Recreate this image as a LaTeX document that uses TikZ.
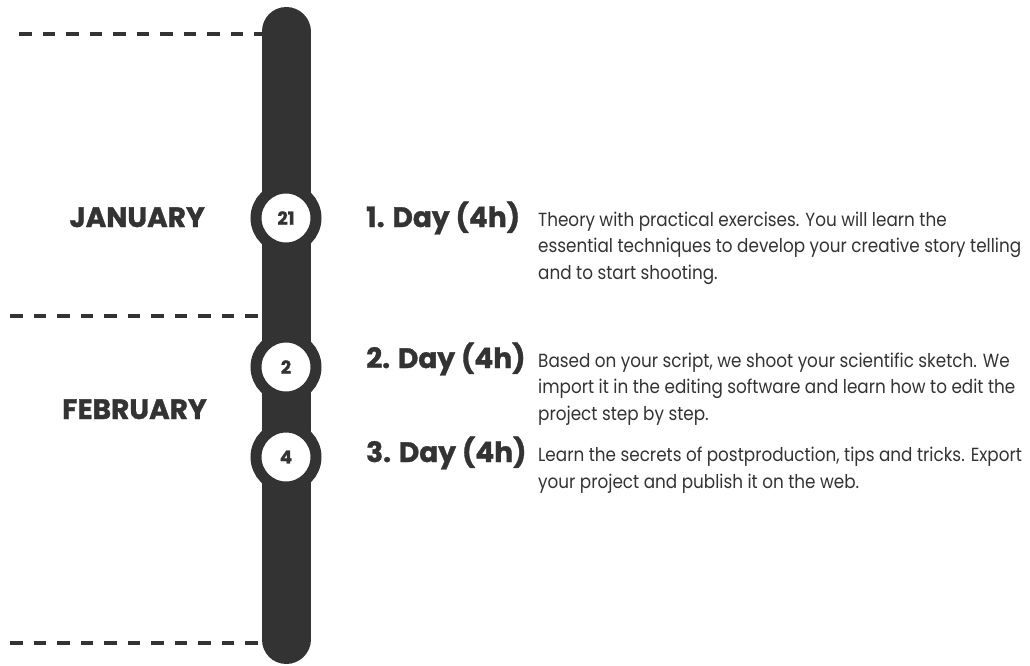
\documentclass[tikz,border=0pt]{standalone}
\usepackage{fontspec}
\setmainfont{Poppins}[BoldFeatures={FakeBold=1.2}]
\newfontfamily\bodyfont{Poppins}[FakeStretch=0.885]
\usetikzlibrary{positioning}
\definecolor{ink}{HTML}{333333}

\begin{document}
\begin{tikzpicture}[x=1pt,y=-1pt,
    every node/.style={text=ink,inner sep=0pt},
    daydot/.style={circle,draw=ink,fill=white,line width=11pt,minimum size=60pt,font=\bfseries\fontsize{18}{18}\selectfont},
    month/.style={anchor=base east,font=\bfseries\fontsize{28}{28}\selectfont},
    daytitle/.style={anchor=base west,font=\bfseries\fontsize{28}{28}\selectfont},
    daytext/.style={anchor=base west,align=left,font=\bodyfont\fontsize{19}{26.5}\selectfont},
    divider/.style={ink,line width=4pt,dash pattern=on 12.5pt off 11pt}]
   \useasboundingbox (0,0) rectangle (1030,666);
   % timeline bar
   \coordinate (top) at (286,31.5);
   \coordinate (bottom) at (286,639.5);
   \coordinate (edge) at (262,0);
   \draw[ink,line width=49pt,line cap=round] (top) -- (bottom);
   % month dividers
   \coordinate (s1) at (19,34);
   \coordinate (s2) at (10,316);
   \coordinate (s3) at (10,643);
   \foreach \s in {s1,s2,s3}
      \draw[divider] (\s) -- (\s -| edge);
   % dates
   \node[daydot] (d21) at (286,218) {21};
   \node[daydot] (d2) at (286,367) {2};
   \node[daydot] (d4) at (286,457) {4};
   \node[month] (jan) at (205,227) {JANUARY};
   \node[month] (feb) at (207,419) {FEBRUARY};
   % days (text anchored at the baseline of its last line)
   \node[daytitle] (t1) at (366,227) {1. Day (4h)};
   \node[daytitle] (t2) at (366,368) {2. Day (4h)};
   \node[daytitle] (t3) at (366,462) {3. Day (4h)};
   \node[daytext] (x1) at (538,279) {Theory with practical exercises. You will learn the\\
      essential techniques to develop your creative story telling\\and to start shooting.};
   \node[daytext] (x2) at (538,420) {Based on your script, we shoot your scientific sketch. We\\
      import it in the editing software and learn how to edit the\\project step by step.};
   \node[daytext] (x3) at (538,488) {Learn the secrets of postproduction, tips and tricks. Export\\
      your project and publish it on the web.};
\end{tikzpicture}
\end{document}
